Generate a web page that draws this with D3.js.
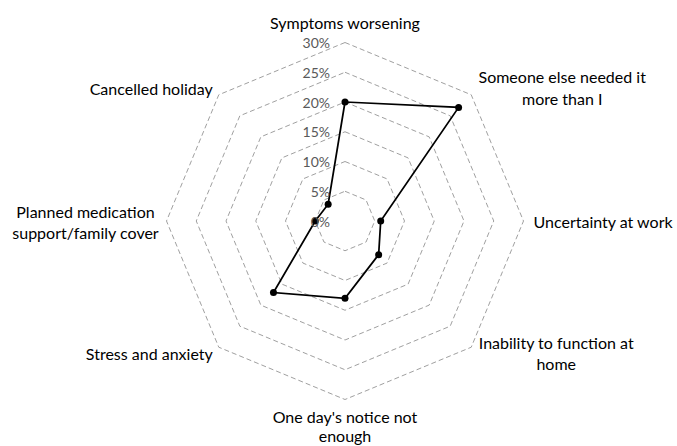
<!DOCTYPE html>
<html>
<head>
<meta charset="utf-8">
<script src="https://cdn.jsdelivr.net/npm/d3@7"></script>
<style>
  html, body { margin: 0; padding: 0; background: #fff; }
  svg { display: block; }
</style>
</head>
<body>
<svg id="chart" width="677" height="446"></svg>
<script>
const categories = [
  ["Symptoms worsening"],
  ["Someone else needed it", "more than I"],
  ["Uncertainty at work"],
  ["Inability to function at", "home"],
  ["One day's notice not", "enough"],
  ["Stress and anxiety"],
  ["Planned medication", "support/family cover"],
  ["Cancelled holiday"]
];
const values = [20, 27, 6, 8, 13, 17, 5, 4];
const tickValues = [0, 5, 10, 15, 20, 25, 30];
const tickLabels = ["0%", "5%", "10%", "15%", "20%", "25%", "30%"];

// label placement (relative to outer vertex)
const labelStyle = [
  {anchor: "middle", dx: 0, dy: [-20]},
  {anchor: "middle", dx: 91, dy: [-18, 4]},
  {anchor: "start", dx: 10, dy: [0]},
  {anchor: "middle", dx: 85, dy: [-5, 16]},
  {anchor: "middle", dx: 0, dy: [17, 36]},
  {anchor: "end", dx: -6, dy: [6]},
  {anchor: "middle", dx: -81, dy: [-10, 11]},
  {anchor: "end", dx: -6, dy: [-6]}
];

const svg = d3.select("#chart");
const cx = 345, cy = 221, R = 178.5;
const r = d3.scaleLinear().domain([0, 30]).range([0, R]);
const n = categories.length;
const angle = i => i * 2 * Math.PI / n;
const pt = (i, v) => [cx + r(v) * Math.sin(angle(i)), cy - r(v) * Math.cos(angle(i))];

const g = svg.append("g");

// grid octagons
const line = d3.line();
tickValues.filter(t => t > 0).forEach(t => {
  const pts = d3.range(n).map(i => pt(i, t));
  g.append("path")
    .attr("d", line(pts) + "Z")
    .attr("fill", "none")
    .attr("stroke", "#a0a0a0")
    .attr("stroke-width", 1)
    .attr("stroke-dasharray", "5,3");
});

// data polygon
const dataPts = values.map((v, i) => pt(i, v));
g.append("path")
  .attr("d", line(dataPts) + "Z")
  .attr("fill", "none")
  .attr("stroke", "#000")
  .attr("stroke-width", 1.75);

g.selectAll("circle.pt").data(values).enter().append("circle")
  .attr("class", "pt")
  .attr("cx", (v, i) => pt(i, v)[0])
  .attr("cy", (v, i) => pt(i, v)[1])
  .attr("r", 3.5)
  .attr("fill", "#000");

// tick labels
g.selectAll("text.tick").data(tickValues).enter().append("text")
  .attr("class", "tick")
  .attr("x", cx - 15)
  .attr("y", d => cy - r(d))
  .attr("text-anchor", "end")
  .attr("dominant-baseline", "central")
  .attr("font-family", "Lato, 'Liberation Sans', sans-serif")
  .attr("font-size", 14)
  .attr("fill", "#595959")
  .text((d, i) => tickLabels[i]);

// category labels
categories.forEach((lines, i) => {
  const [vx, vy] = pt(i, 30);
  const s = labelStyle[i];
  const t = g.append("text")
    .attr("text-anchor", s.anchor)
    .attr("font-family", "Lato, 'Liberation Sans', sans-serif")
    .attr("font-size", 16)
    .attr("fill", "#000");
  lines.forEach((ln, j) => {
    t.append("tspan")
      .attr("x", vx + s.dx)
      .attr("y", vy + s.dy[j])
      .attr("dominant-baseline", "central")
      .text(ln);
  });
});
</script>
</body>
</html>
